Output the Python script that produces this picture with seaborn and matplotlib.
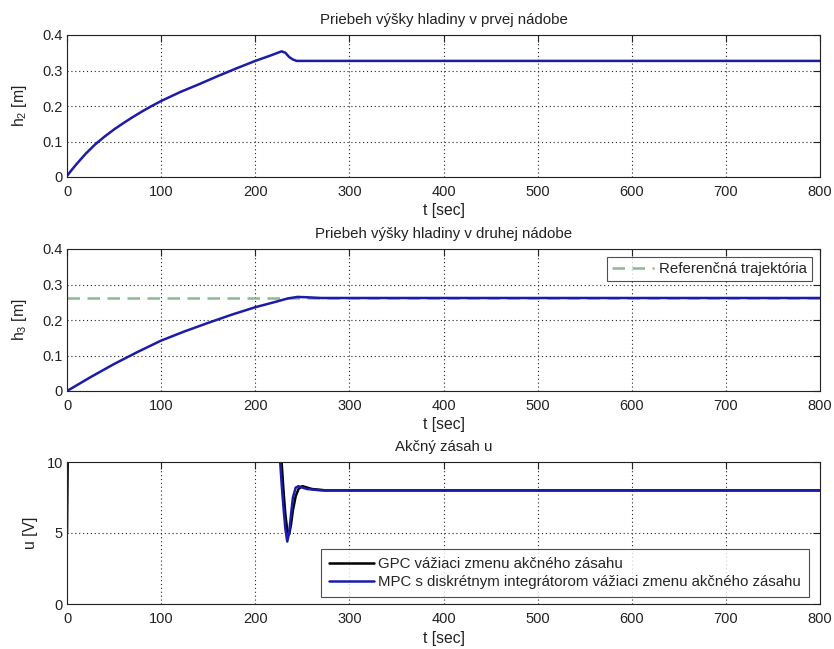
import numpy as np
import pandas as pd
import matplotlib
matplotlib.use("Agg")
import matplotlib.pyplot as plt
import seaborn as sns

# ---- data ----
t_h2 = [0, 5, 10, 20, 30, 40, 50, 60, 70, 80, 90, 100, 120, 140, 160, 180, 200, 215, 228, 232, 236, 240, 244, 250, 800]
h2 = [0.003, 0.02, 0.036, 0.066, 0.092, 0.114, 0.134, 0.152, 0.169, 0.185, 0.200, 0.214, 0.239, 0.261, 0.284, 0.306, 0.327, 0.341, 0.354, 0.350, 0.338, 0.331, 0.327, 0.327, 0.327]

t_h3 = [0, 25, 50, 75, 100, 125, 150, 175, 200, 220, 235, 245, 255, 270, 800]
h3 = [0.0, 0.039, 0.076, 0.110, 0.142, 0.168, 0.192, 0.215, 0.236, 0.250, 0.261, 0.265, 0.264, 0.262, 0.262]

t_ref = [0, 800]
h3_ref = [0.262, 0.262]

t_gpc = [0, 1, 226, 228, 230, 232, 234, 236, 238, 240, 243, 246, 250, 255, 260, 268, 275, 800]
u_gpc = [5.0, 12.0, 12.0, 10.0, 8.0, 6.3, 5.2, 4.9, 5.6, 6.6, 7.6, 8.1, 8.3, 8.2, 8.1, 8.05, 8.0, 8.0]

t_mpc = [0, 225, 226, 228, 230, 232, 234, 236, 238, 240, 243, 246, 250, 255, 262, 270, 800]
u_mpc = [12.0, 12.0, 10.5, 8.5, 6.8, 5.3, 4.4, 5.0, 6.3, 7.5, 8.2, 8.3, 8.2, 8.1, 8.05, 8.0, 8.0]

titles = ["Priebeh výšky hladiny v prvej nádobe",
          "Priebeh výšky hladiny v druhej nádobe",
          "Akčný zásah u"]
ylabels = ["h$_2$ [m]", "h$_3$ [m]", "u [V]"]
xlabel = "t [sec]"
legend_ref = "Referenčná trajektória"
legend_gpc = "GPC vážiaci zmenu akčného zásahu"
legend_mpc = "MPC s diskrétnym integrátorom vážiaci zmenu akčného zásahu"
xticks = [0, 100, 200, 300, 400, 500, 600, 700, 800]
yticks_h = [0, 0.1, 0.2, 0.3, 0.4]
ytick_labels_h = ['0', '0.1', '0.2', '0.3', '0.4']
yticks_u = [0, 5, 10]

# ---- style ----
sns.set_style("white")
plt.rcParams['font.family'] = ['Liberation Sans', 'DejaVu Sans']
plt.rcParams['mathtext.default'] = 'regular'

BLUE = '#1c1ca8'
BLACK = '#000000'
GREEN = '#8cb894'
TXT = '#222222'

TICK_FS = 10.5
LABEL_FS = 11.3
TITLE_FS = 10.8
LEG_FS = 10.8

fig = plt.figure(figsize=(8.34, 6.49), dpi=100)
W, H = 834, 649
left, right = 67, 820
tops = [35, 249, 462]
height = 142
axes = []
for top in tops:
    ax = fig.add_axes([left / W, 1 - (top + height) / H, (right - left) / W, height / H])
    axes.append(ax)

def style(ax, yticks, ylim):
    ax.set_xlim(0, 800)
    ax.set_ylim(*ylim)
    ax.set_xticks(xticks)
    ax.set_yticks(yticks)
    ax.set_xticklabels([str(v) for v in xticks])
    ax.tick_params(direction='in', length=5, width=0.8, top=True, right=True,
                   labelsize=TICK_FS, colors=TXT)
    ax.tick_params(axis='x', pad=6)
    ax.tick_params(axis='y', pad=3)
    ax.grid(True, linestyle=(0, (1, 2.5)), color=TXT, linewidth=0.8)
    for s in ax.spines.values():
        s.set_color(TXT)
        s.set_linewidth(0.8)
    ax.set_xlabel(xlabel, fontsize=LABEL_FS, labelpad=3, color=TXT)

# top
df1 = pd.DataFrame({'t': t_h2, 'h': h2})
sns.lineplot(data=df1, x='t', y='h', ax=axes[0], color=BLUE, linewidth=1.8)
style(axes[0], yticks_h, (0, 0.4))
axes[0].set_yticklabels(ytick_labels_h)
axes[0].set_ylabel(ylabels[0], fontsize=LABEL_FS, labelpad=10, color=TXT)
axes[0].set_title(titles[0], fontsize=TITLE_FS, pad=8, color=TXT)

# middle
df_ref = pd.DataFrame({'t': t_ref, 'h': h3_ref})
df2 = pd.DataFrame({'t': t_h3, 'h': h3})
sns.lineplot(data=df_ref, x='t', y='h', ax=axes[1], color=GREEN, linewidth=1.8,
             linestyle=(0, (5, 3)), label=legend_ref)
sns.lineplot(data=df2, x='t', y='h', ax=axes[1], color=BLUE, linewidth=1.8)
style(axes[1], yticks_h, (0, 0.4))
axes[1].set_yticklabels(ytick_labels_h)
axes[1].set_ylabel(ylabels[1], fontsize=LABEL_FS, labelpad=10, color=TXT)
axes[1].set_title(titles[1], fontsize=TITLE_FS, pad=8, color=TXT)
leg = axes[1].legend(loc='upper right', bbox_to_anchor=(0.989, 0.946), fontsize=LEG_FS,
                     frameon=True, fancybox=False, edgecolor=TXT,
                     handlelength=2.8, borderpad=0.35, handletextpad=0.3, borderaxespad=0)
leg.get_frame().set_linewidth(0.8)

# bottom
df_g = pd.DataFrame({'t': t_gpc, 'u': u_gpc})
df_m = pd.DataFrame({'t': t_mpc, 'u': u_mpc})
sns.lineplot(data=df_g, x='t', y='u', ax=axes[2], color=BLACK, linewidth=1.8, label=legend_gpc)
sns.lineplot(data=df_m, x='t', y='u', ax=axes[2], color=BLUE, linewidth=1.8, label=legend_mpc)
style(axes[2], yticks_u, (0, 10))
axes[2].set_ylabel(ylabels[2], fontsize=LABEL_FS, labelpad=6, color=TXT)
axes[2].set_title(titles[2], fontsize=TITLE_FS, pad=8, color=TXT)
leg2 = axes[2].legend(loc='lower right', bbox_to_anchor=(0.985, 0.05), fontsize=LEG_FS,
                      frameon=True, fancybox=False, edgecolor=TXT,
                      handlelength=3.0, borderpad=0.5, handletextpad=0.3, borderaxespad=0,
                      labelspacing=0.3)
leg2.get_frame().set_linewidth(0.8)

fig.savefig('out.png', dpi=100)
